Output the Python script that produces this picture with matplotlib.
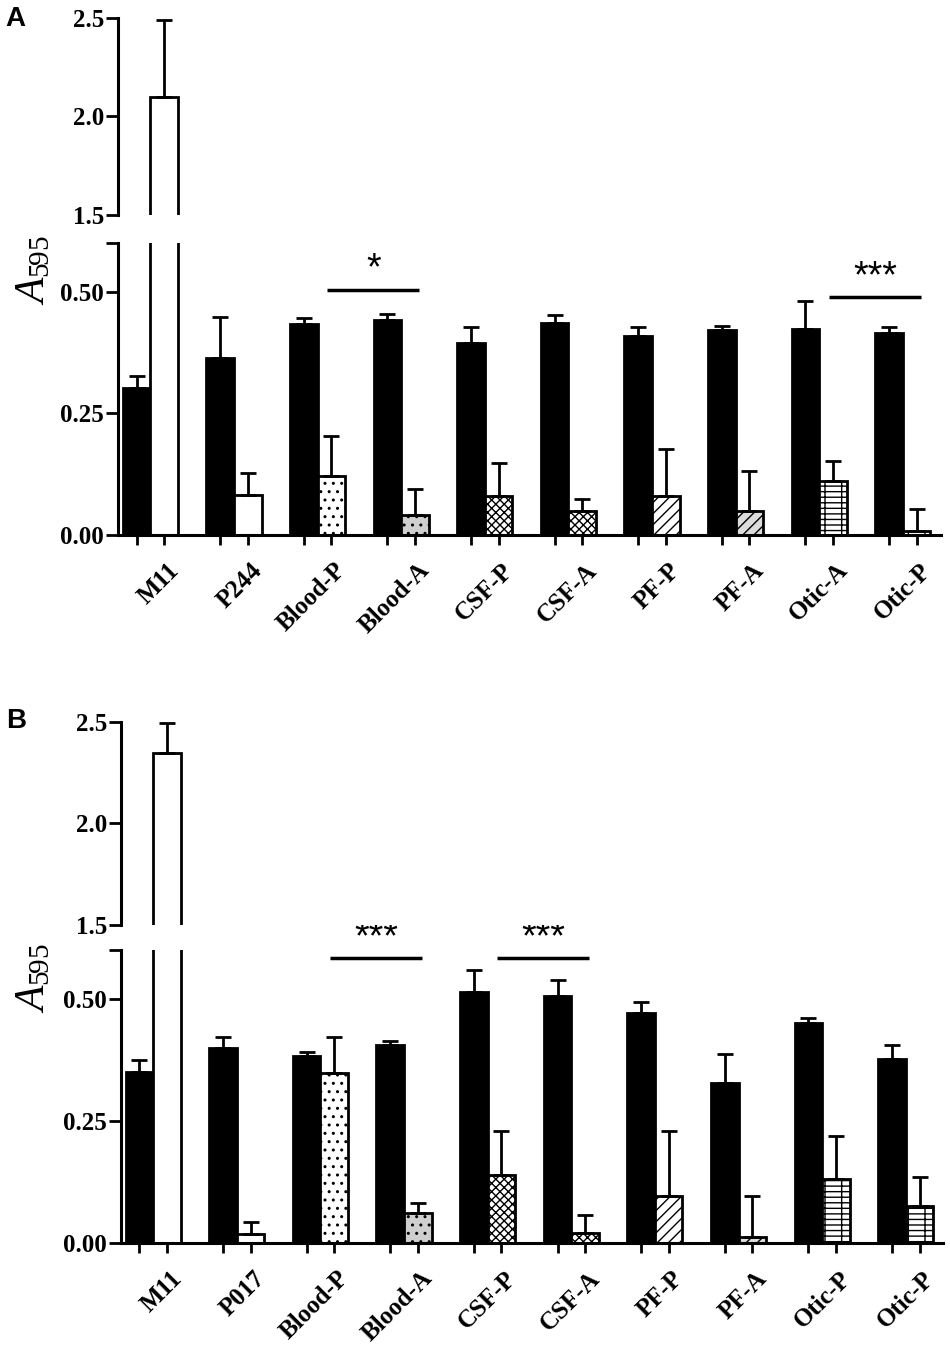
import matplotlib

matplotlib.use('Agg')
import matplotlib.pyplot as plt
import numpy as np

plt.rcParams['font.family'] = 'Liberation Serif'
plt.rcParams['font.weight'] = 'bold'
plt.rcParams['hatch.linewidth'] = 1.0
plt.rcParams['mathtext.fontset'] = 'custom'
plt.rcParams['mathtext.rm'] = 'Liberation Serif:weight=normal'
plt.rcParams['mathtext.it'] = 'Liberation Serif:style=italic:weight=normal'

# panel A
labels_a = ['M11', 'P244', 'Blood-P', 'Blood-A', 'CSF-P', 'CSF-A', 'PF-P', 'PF-A', 'Otic-A', 'Otic-P']
black_a = [0.303, 0.364, 0.434, 0.441, 0.394, 0.436, 0.409, 0.421, 0.424, 0.416]
black_err_a = [0.023, 0.083, 0.012, 0.014, 0.034, 0.015, 0.019, 0.009, 0.057, 0.011]
pat_a = [2.10, 0.083, 0.122, 0.042, 0.080, 0.049, 0.080, 0.049, 0.111, 0.009]
pat_err_a = [0.39, 0.044, 0.081, 0.053, 0.067, 0.026, 0.097, 0.083, 0.041, 0.045]
sig_a = [(2, 3, 0.504, '*'), (8, 9, 0.489, '***')]

# panel B
labels_b = ['M11', 'P017', 'Blood-P', 'Blood-A', 'CSF-P', 'CSF-A', 'PF-P', 'PF-A', 'Otic-P', 'Otic-P']
black_b = [0.350, 0.399, 0.383, 0.406, 0.513, 0.505, 0.472, 0.328, 0.451, 0.376]
black_err_b = [0.024, 0.023, 0.008, 0.008, 0.047, 0.033, 0.022, 0.059, 0.009, 0.029]
pat_b = [2.349, 0.018, 0.348, 0.062, 0.139, 0.021, 0.097, 0.012, 0.131, 0.075]
pat_err_b = [0.144, 0.026, 0.074, 0.019, 0.091, 0.036, 0.133, 0.085, 0.088, 0.061]
sig_b = [(2, 3, 0.583, '***'), (4, 5, 0.583, '***')]

fills = ['white', 'white', 'white', '#cfcfcf', 'white', 'white', 'white', '#dcdcdc', 'white', 'white']
hatches = ['', '', '..', '..', 'xxxx', 'xxxx', '///', '///', '---|', '---|']

W = 0.33
LW = 2.0


def draw_bars(ax, labels, black, black_err, pat, pat_err):
    x = np.arange(len(labels))
    ax.bar(x - W / 2, black, W, color='black', edgecolor='black', linewidth=LW, zorder=2)
    for i in range(len(labels)):
        ax.bar(x[i] + W / 2, pat[i], W, color=fills[i], edgecolor='black',
               hatch=hatches[i], linewidth=LW, zorder=2)
    ax.errorbar(x - W / 2, black, yerr=[np.zeros(len(x)), black_err], fmt='none',
                ecolor='black', elinewidth=LW, capsize=5.5, capthick=LW, zorder=3)
    ax.errorbar(x + W / 2, pat, yerr=[np.zeros(len(x)), pat_err], fmt='none',
                ecolor='black', elinewidth=LW, capsize=5.5, capthick=LW, zorder=3)
    ax.set_xlim(-0.39, len(labels) - 0.55)


def panel(lo_rect, hi_rect, labels, black, black_err, pat, pat_err, sig, letter, letter_y, ylab_y):
    lo = fig.add_axes(lo_rect)
    hi = fig.add_axes(hi_rect)
    draw_bars(lo, labels, black, black_err, pat, pat_err)
    draw_bars(hi, labels, black, black_err, pat, pat_err)

    x = np.arange(len(labels))
    lo.set_ylim(0, 0.6)
    lo.set_yticks([0, 0.25, 0.5, 0.6])
    lo.set_yticklabels(['0.00', '0.25', '0.50', ''])
    lo.set_xticks(np.concatenate([x - W / 2, x + W / 2]), minor=True)
    lo.set_xticks(x + 0.2)
    lo.set_xticklabels(labels, rotation=45, ha='right', rotation_mode='anchor')
    lo.tick_params(axis='x', which='major', length=0, pad=17, labelsize=18)
    lo.tick_params(axis='x', which='minor', length=7, width=LW)
    lo.tick_params(axis='y', length=9, width=LW, labelsize=18, pad=1)
    for s in ['top', 'right']:
        lo.spines[s].set_visible(False)
    for s in ['left', 'bottom']:
        lo.spines[s].set_linewidth(2.2)

    hi.set_ylim(1.5, 2.5)
    hi.set_yticks([1.5, 2.0, 2.5])
    hi.set_yticklabels(['1.5', '2.0', '2.5'])
    hi.set_xticks([])
    hi.tick_params(axis='y', length=9, width=LW, labelsize=18, pad=1)
    for s in ['top', 'right', 'bottom']:
        hi.spines[s].set_visible(False)
    hi.spines['left'].set_linewidth(2.2)

    for i, j, yv, stars in sig:
        x0 = i + W / 2 - 0.05
        x1 = j + W / 2 + 0.05
        lo.plot([x0, x1], [yv, yv], color='black', linewidth=2.5, solid_capstyle='butt', clip_on=False)
        lo.text((x0 + x1) / 2, yv + 0.004, stars, ha='center', va='bottom', fontsize=27,
                fontweight='normal', family='Liberation Sans')

    fig.text(0.006, letter_y, letter, fontsize=20, fontweight='bold', family='Liberation Sans',
             va='top')
    fig.text(0.036, ylab_y, r'$\mathit{A}_{595}$', rotation=90, fontsize=30,
             ha='center', va='center')


fig = plt.figure(figsize=(9.5, 13.46), dpi=100)
panel([0.124, 0.6025, 0.866, 0.217], [0.124, 0.8403, 0.866, 0.1463],
      labels_a, black_a, black_err_a, pat_a, pat_err_a, sig_a, 'A', 1 - 6 / 1346, 1 - 270 / 1346)
panel([0.127, 0.0765, 0.866, 0.2177], [0.127, 0.3128, 0.866, 0.1508],
      labels_b, black_b, black_err_b, pat_b, pat_err_b, sig_b, 'B', 1 - 708 / 1346, 1 - 978 / 1346)

plt.savefig('out.png', dpi=100)
plt.close()
